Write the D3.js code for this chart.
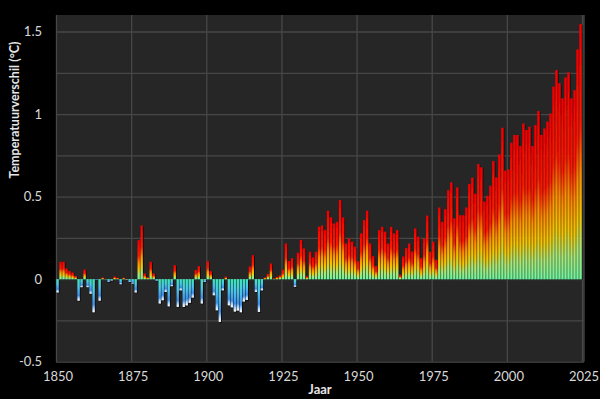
<!DOCTYPE html>
<html>
  <head>
    <script src="https://d3js.org/d3.v7.min.js"></script>
    <style>
      body { margin: 0; background: #000; }
      text { font-family: Lato, "Open Sans", sans-serif; }
    </style>
  </head>
  <body>
    <svg width="600" height="399"></svg>
    <script type="text/javascript">
    // temperature difference per year, 1850 - 2024
    var firstYear = 1850;
    var anomalies = [
      -0.08, 0.105, 0.105, 0.065, 0.05, 0.04, 0.02, -0.13, -0.048, 0.058,
      -0.048, -0.088, -0.2, -0.003, -0.13, 0.01, 0.002, -0.017, -0.007, 0.016,
      0.008, -0.03, 0.009, -0.002, -0.016, -0.026, -0.08, 0.236, 0.325, 0.034,
      0.012, 0.105, 0.034, -0.01, -0.147, -0.127, -0.077, -0.164, -0.042, 0.085,
      -0.168, -0.067, -0.168, -0.158, -0.143, -0.111, 0.055, 0.079, -0.147, -0.016,
      0.109, 0.048, -0.097, -0.188, -0.259, -0.067, 0.016, -0.158, -0.17, -0.196,
      -0.19, -0.2, -0.135, -0.125, 0.077, 0.145, -0.077, -0.198, -0.067, 0.01,
      0.032, 0.095, 0.005, 0.014, 0.024, 0.057, 0.216, 0.11, 0.127, -0.046,
      0.16, 0.238, 0.186, 0.018, 0.166, 0.131, 0.166, 0.317, 0.325, 0.297,
      0.414, 0.374, 0.337, 0.347, 0.479, 0.374, 0.216, 0.246, 0.226, 0.196,
      0.109, 0.277, 0.358, 0.414, 0.216, 0.139, 0.079, 0.297, 0.317, 0.287,
      0.216, 0.317, 0.277, 0.297, 0.027, 0.137, 0.188, 0.216, 0.168, 0.307,
      0.257, 0.127, 0.246, 0.385, 0.166, 0.226, 0.117, 0.434, 0.347, 0.424,
      0.539, 0.586, 0.368, 0.556, 0.387, 0.387, 0.434, 0.576, 0.615, 0.517,
      0.697, 0.677, 0.469, 0.505, 0.566, 0.715, 0.616, 0.756, 0.917, 0.657,
      0.665, 0.826, 0.873, 0.873, 0.806, 0.943, 0.903, 0.923, 0.806, 0.933,
      1.018, 0.873, 0.913, 0.954, 1.004, 1.166, 1.267, 1.186, 1.095, 1.222,
      1.253, 1.095, 1.145, 1.392, 1.545
    ];
    var years = d3.range(firstYear, firstYear + anomalies.length);
    var xTicks = [1850, 1875, 1900, 1925, 1950, 1975, 2000, 2025];
    var yTicks = [-0.5, 0, 0.5, 1, 1.5];
    var yGrid = [-0.5, -0.25, 0, 0.25, 0.5, 0.75, 1, 1.25, 1.5];

    var pLeft = 56, pRight = 582, pTop = 15, pBottom = 361.7;

    var x = d3.scaleLinear().domain([1850, 2025]).range([pLeft, pRight]);
    var xb = d3.scaleBand().domain(years).range([pLeft, pRight])
      .paddingInner(0.25).paddingOuter(0.125);
    var y = d3.scaleLinear().domain([-0.5, 1.6]).range([pBottom, pTop]);

    var svg = d3.select('svg');
    var defs = svg.append('defs');

    // per bar gradients, like the original spreadsheet fill
    var gp = defs.append('linearGradient').attr('id', 'gPos')
      .attr('x1', 0).attr('y1', 1).attr('x2', 0).attr('y2', 0);
    [[0, '#6ff5a0'], [0.12, '#a8e878'], [0.25, '#f5c400'], [0.42, '#ff8a00'],
     [0.6, '#ff1a00'], [1, '#f20000']].forEach(function(s) {
      gp.append('stop').attr('offset', s[0]).attr('stop-color', s[1]);
    });
    var gn = defs.append('linearGradient').attr('id', 'gNeg')
      .attr('x1', 0).attr('y1', 0).attr('x2', 0).attr('y2', 1);
    [[0, '#3ee8b8'], [0.4, '#4cc4ee'], [0.76, '#3f90e8'], [0.9, '#b8dcff'],
     [1, '#ffffff']].forEach(function(s) {
      gn.append('stop').attr('offset', s[0]).attr('stop-color', s[1]);
    });

    var f = defs.append('filter').attr('id', 'shadow')
      .attr('x', '-50%').attr('y', '-10%').attr('width', '200%').attr('height', '120%');
    f.append('feDropShadow').attr('dx', 0.8).attr('dy', 0.8)
      .attr('stdDeviation', 0.5).attr('flood-color', '#000').attr('flood-opacity', 0.85);

    var plotW = pRight + 2 - pLeft;

    // plot area
    svg.append('rect')
      .attr('x', pLeft).attr('y', pTop)
      .attr('width', plotW).attr('height', pBottom - pTop)
      .attr('fill', '#262626');

    // grid
    svg.append('g')
      .attr('transform', 'translate(' + pLeft + ',0)')
      .call(d3.axisLeft(y).tickValues(yGrid).tickSize(-plotW).tickFormat(''))
      .call(function(g) { g.select('.domain').remove(); })
      .selectAll('line').attr('stroke', '#474747').attr('stroke-width', 1.3);

    svg.append('g')
      .attr('transform', 'translate(0,' + pBottom + ')')
      .call(d3.axisBottom(x).tickValues(xTicks).tickSize(-(pBottom - pTop)).tickFormat(''))
      .call(function(g) { g.select('.domain').remove(); })
      .selectAll('line').attr('stroke', '#474747').attr('stroke-width', 1.3);

    svg.append('line')
      .attr('x1', pRight + 2).attr('x2', pRight + 2).attr('y1', pTop).attr('y2', pBottom)
      .attr('stroke', '#474747').attr('stroke-width', 1.3);

    // bars
    svg.append('g')
      .attr('filter', 'url(#shadow)')
      .selectAll('rect')
      .data(anomalies)
      .enter()
      .append('rect')
        .attr('x', function(d, i) { return xb(years[i]); })
        .attr('y', function(d) { return y(Math.max(d, 0)); })
        .attr('width', xb.bandwidth())
        .attr('height', function(d) { return Math.abs(y(d) - y(0)); })
        .attr('fill', function(d) { return d >= 0 ? 'url(#gPos)' : 'url(#gNeg)'; });

    // tick labels
    svg.append('g')
      .attr('transform', 'translate(' + pLeft + ',0)')
      .call(d3.axisLeft(y).tickValues(yTicks).tickSize(0).tickPadding(14)
        .tickFormat(function(d) { return String(d); }))
      .call(function(g) { g.select('.domain').remove(); })
      .selectAll('text')
        .attr('fill', '#d9d9d9').style('font-size', '13px');

    svg.append('g')
      .attr('transform', 'translate(1.5,' + pBottom + ')')
      .call(d3.axisBottom(x).tickValues(xTicks).tickSize(0).tickPadding(10)
        .tickFormat(d3.format('d')))
      .call(function(g) { g.select('.domain').remove(); })
      .selectAll('text')
        .attr('fill', '#d9d9d9').style('font-size', '13px');

    // axis titles
    svg.append('text')
      .attr('x', (pLeft + pRight) / 2 + 1).attr('y', 394)
      .attr('text-anchor', 'middle')
      .attr('fill', '#e6e6e6')
      .style('font-size', '13px').style('font-weight', 'bold')
      .text('Jaar');

    svg.append('text')
      .attr('transform', 'translate(19,110) rotate(-90)')
      .attr('text-anchor', 'middle')
      .attr('fill', '#e6e6e6')
      .style('font-size', '12.5px').style('font-weight', 'bold')
      .text('Temperatuurverschil (°C)');
    </script>
  </body>
</html>
